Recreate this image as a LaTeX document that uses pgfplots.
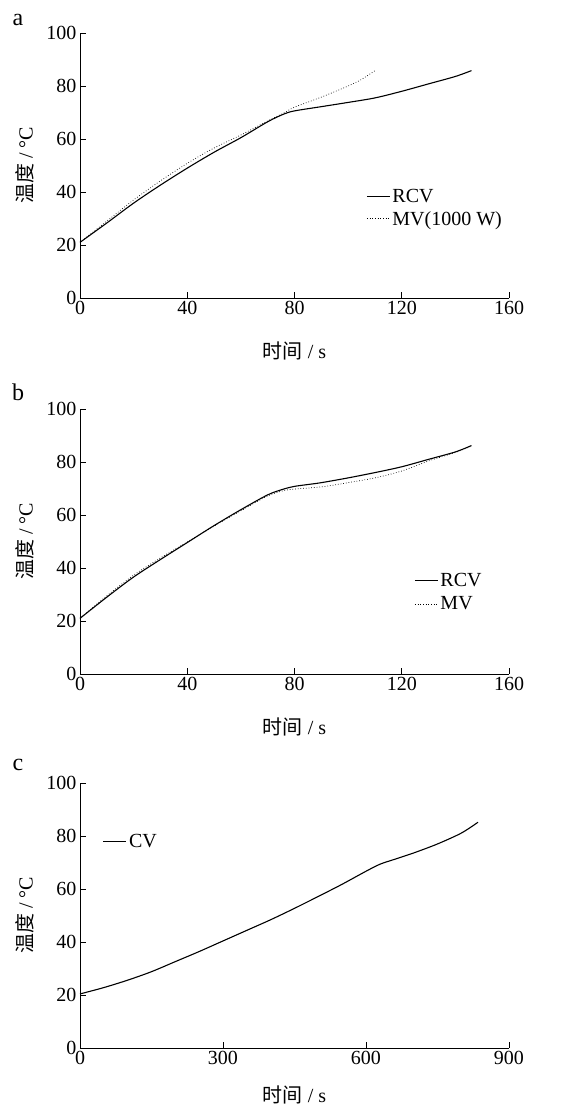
\documentclass[border=0pt]{standalone}
\usepackage{pgfplots}
\pgfplotsset{compat=1.18}
\usepackage{fontspec}
\setmainfont{Liberation Serif}
\newfontfamily\cjk{Noto Sans CJK SC}
\pgfplotsset{
  panel/.style={
    scale only axis, width=429bp, height=265bp,
    anchor=south west,
    axis lines=left, axis line style={-, line width=0.8bp},
    tick align=inside, tick pos=left, major tick length=6bp,
    every tick/.style={line width=0.8bp, black},
    ymin=0, ymax=100, ytick={0,20,40,60,80,100},
    /pgf/number format/assume math mode=true,
    tick label style={font=\fontsize{20bp}{22bp}\selectfont},
    label style={font=\fontsize{20bp}{22bp}\selectfont},
    xlabel={{\cjk 时间} / s},
    ylabel={{\cjk 温度} / °C},
    xlabel style={at={(axis description cs:0.5,-0.2)}, anchor=center},
    ylabel style={at={(axis description cs:-0.128,0.5)}, anchor=center},
    legend style={draw=none, fill=none, inner sep=0pt, font=\fontsize{20bp}{22bp}\selectfont, row sep=3bp, legend cell align=left},
    legend image code/.code={\draw[#1] (0bp,0bp) -- (23bp,0bp);},
    clip=false,
  },
  rcv/.style={black, line width=1.1bp, smooth},
  mv/.style={black, line width=0.7bp, dotted, smooth},
}
\begin{document}
\begin{tikzpicture}
\useasboundingbox (0,0) rectangle (579bp,1109bp);
\node[font=\fontsize{24bp}{26bp}\selectfont] at (18bp,1109bp-20bp) {a};
\node[font=\fontsize{24bp}{26bp}\selectfont] at (18bp,1109bp-392bp) {b};
\node[font=\fontsize{24bp}{26bp}\selectfont] at (18bp,1109bp-765bp) {c};
% panel a
\begin{axis}[panel, at={(80bp,811bp)}, xmin=0, xmax=160, xtick={0,40,80,120,160},
  legend style={at={(axis description cs:0.667,0.418)}, anchor=north west}]
\addplot[rcv] coordinates {(0,21)(10,28.3)(20,35.8)(30,42.6)(40,49)(50,55)(60,60.5)(70,66.5)(76,69.4)(80,70.6)(90,72.2)(100,73.8)(110,75.5)(120,78)(130,80.8)(140,83.6)(146,85.8)};
\addlegendentry{RCV}
\addplot[mv] coordinates {(0,21)(10,29)(20,37)(30,44.2)(40,50.8)(50,56.6)(60,61.5)(70,66.8)(76,69.8)(80,72)(90,75.8)(100,80)(105,82.5)(110,85.8)};
\addlegendentry{MV(1000 W)}
\end{axis}
% panel b
\begin{axis}[panel, at={(80bp,435bp)}, xmin=0, xmax=160, xtick={0,40,80,120,160},
  legend style={at={(axis description cs:0.779,0.39)}, anchor=north west, row sep=5bp}]
\addplot[rcv] coordinates {(0,21)(10,29)(20,36.6)(30,43.2)(40,49.6)(50,56)(60,62)(70,67.6)(76,69.8)(80,70.8)(85,71.5)(90,72.2)(100,74)(110,76)(120,78.2)(130,81)(140,83.8)(146,86.2)};
\addlegendentry{RCV}
\addplot[mv] coordinates {(0,21)(10,29.5)(20,37.3)(30,43.8)(40,49.8)(50,55.8)(60,61.6)(70,67.2)(76,69.2)(80,69.8)(90,70.6)(100,72.2)(110,74)(120,76.6)(130,80.4)(136,82.3)(140,83.6)(146,86)};
\addlegendentry{MV}
\end{axis}
% panel c
\begin{axis}[panel, at={(80bp,61bp)}, xmin=0, xmax=900, xtick={0,300,600,900},
  xlabel style={at={(axis description cs:0.5,-0.178)}, anchor=center},
  legend style={at={(axis description cs:0.053,0.815)}, anchor=north west}]
\addplot[rcv] coordinates {(0,20.4)(50,22.8)(100,25.6)(150,28.8)(200,32.6)(250,36.4)(300,40.4)(350,44.4)(400,48.4)(450,52.7)(500,57.2)(550,61.8)(600,66.7)(630,69.4)(660,71.2)(700,73.6)(750,77)(800,81.1)(835,85.2)};
\addlegendentry{CV}
\end{axis}
\end{tikzpicture}
\end{document}
